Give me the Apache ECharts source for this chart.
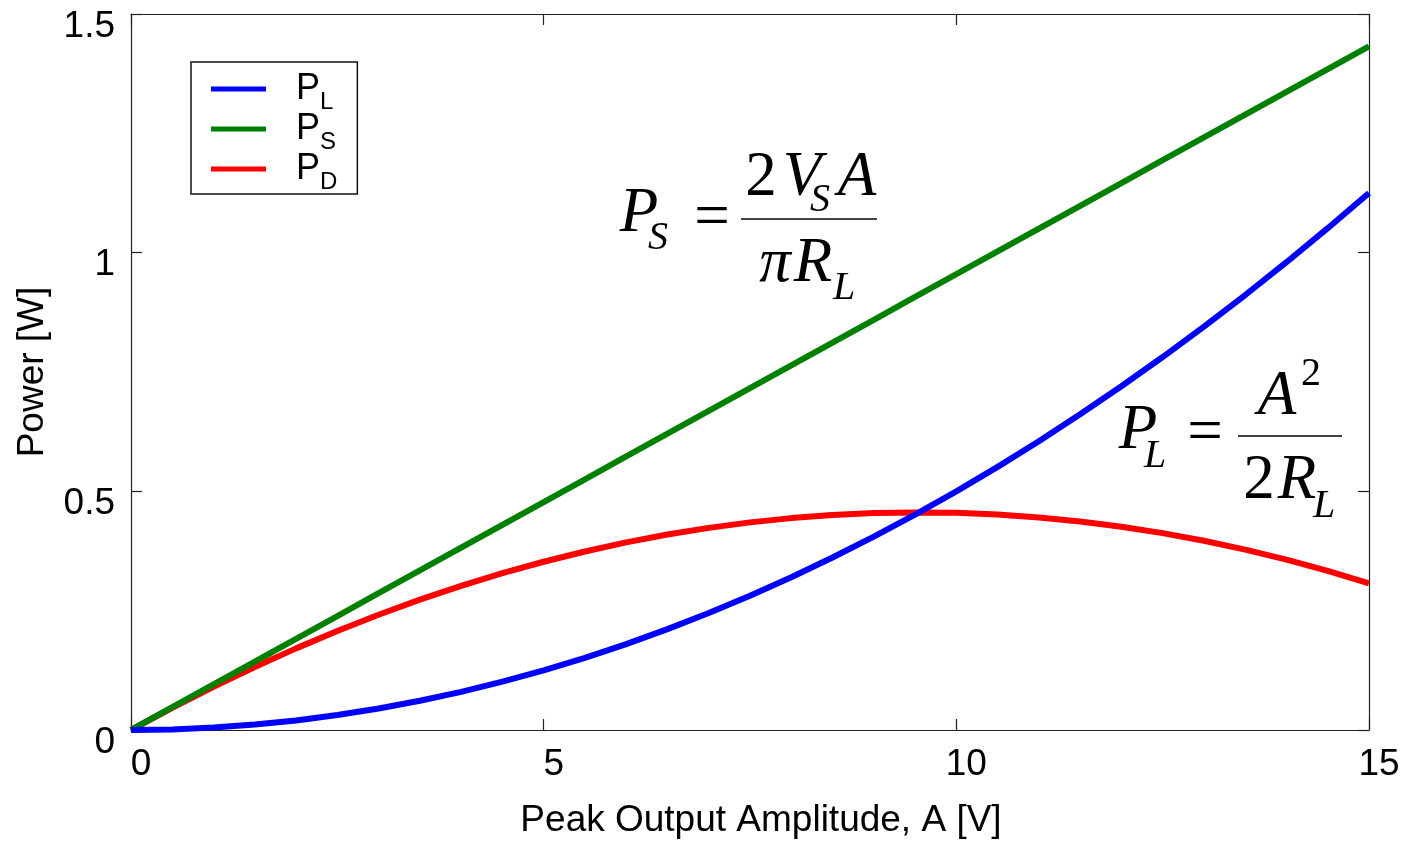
<!DOCTYPE html>
<html><head><meta charset="utf-8">
<script src="https://cdn.jsdelivr.net/npm/echarts@6/dist/echarts.min.js"></script>
<style>html,body{margin:0;padding:0;background:#fff}#c{width:1406px;height:841px}</style>
</head><body><div id="c"></div>
<script>
// Peak output amplitude A [V]
const amplitude = [0,0.5,1,1.5,2,2.5,3,3.5,4,4.5,5,5.5,6,6.5,7,7.5,8,8.5,9,9.5,10,10.5,11,11.5,12,12.5,13,13.5,14,14.5,15];
// Load power P_L [W]
const pLoad = [0,0.0013,0.005,0.0113,0.02,0.0313,0.045,0.0613,0.08,0.1013,0.125,0.1513,0.18,0.2113,0.245,0.2813,0.32,0.3613,0.405,0.4513,0.5,0.5513,0.605,0.6613,0.72,0.7813,0.845,0.9113,0.98,1.0513,1.125];
// Supply power P_S [W]
const pSupply = [0,0.0477,0.0955,0.1432,0.191,0.2387,0.2865,0.3342,0.382,0.4297,0.4775,0.5252,0.573,0.6207,0.6685,0.7162,0.7639,0.8117,0.8594,0.9072,0.9549,1.0027,1.0504,1.0982,1.1459,1.1937,1.2414,1.2892,1.3369,1.3847,1.4324];
// Dissipated power P_D [W]
const pDiss = [0,0.0465,0.0905,0.132,0.171,0.2075,0.2415,0.273,0.302,0.3285,0.3525,0.374,0.393,0.4095,0.4235,0.435,0.4439,0.4505,0.4544,0.4559,0.4549,0.4514,0.4454,0.4369,0.4259,0.4124,0.3964,0.378,0.3569,0.3334,0.3074];
const seriesNames = ['P_L','P_S','P_D'];
const subs = {P_L:'L', P_S:'S', P_D:'D'};
const xTicks = [0,5,10,15];
const yTicks = [0,0.5,1,1.5];

const pair = v => amplitude.map((a,i)=>[a,v[i]]);
const chart = echarts.init(document.getElementById('c'));
const sans = 'Liberation Sans, Arial, sans-serif';
const serif = 'Liberation Serif, Times New Roman, serif';
function axisBase(){
  return {
    type:'value',
    axisLine:{show:true,onZero:false,lineStyle:{color:'#222',width:1.2}},
    axisTick:{show:true,inside:true,length:11,lineStyle:{color:'#222',width:1.2}},
    splitLine:{show:false}
  };
}
function T(text, x, y, size, italic){
  return {type:'text', x:x, y:y, silent:true, z:100, style:{text:text, fill:'#000',
    font:(italic?'italic ':'')+size+'px '+serif, align:'center', verticalAlign:'middle'}};
}
function bar(x1,x2,y){return {type:'line',silent:true,z:100,shape:{x1:x1,y1:y,x2:x2,y2:y},style:{stroke:'#444',lineWidth:2}};}
const F=63, S=40;
chart.setOption({
  animation:false,
  backgroundColor:'#fff',
  grid:{left:131,top:14,right:37,bottom:111,containLabel:false,outerBoundsMode:'none'},
  xAxis:[
    Object.assign(axisBase(),{min:0,max:15,interval:5,position:'bottom',
      name:'Peak Output Amplitude, A [V]',nameLocation:'middle',nameGap:72,
      nameTextStyle:{fontFamily:sans,fontSize:37,color:'#000',padding:[0,0,0,22]},
      axisLabel:{fontFamily:sans,fontSize:37,color:'#000',margin:16,padding:[0,0,0,20],
        formatter:v=>xTicks.includes(v)?String(v):''}}),
    Object.assign(axisBase(),{min:0,max:15,interval:5,position:'top',axisLabel:{show:false}})
  ],
  yAxis:[
    Object.assign(axisBase(),{min:0,max:1.5,interval:0.5,position:'left',
      name:'Power [W]',nameLocation:'middle',nameGap:80,
      nameTextStyle:{fontFamily:sans,fontSize:37,color:'#000'},
      axisLabel:{fontFamily:sans,fontSize:37,color:'#000',margin:16,verticalAlign:'top',lineHeight:25,
        formatter:v=>yTicks.includes(v)?String(v):''}}),
    Object.assign(axisBase(),{min:0,max:1.5,interval:0.5,position:'right',axisLabel:{show:false}})
  ],
  legend:{
    data:seriesNames, orient:'vertical', left:191, top:62,
    backgroundColor:'#fff', borderColor:'#111', borderWidth:1.5, borderRadius:0,
    padding:[9,20,0,20], itemGap:-3, itemWidth:55, itemHeight:5, icon:'rect',
    formatter:n=>'{p|P}{s|'+subs[n]+'}',
    textStyle:{padding:[0,0,0,25],rich:{
      p:{fontFamily:sans,fontSize:36,color:'#000',lineHeight:32},
      s:{fontFamily:sans,fontSize:24,color:'#000',lineHeight:24,verticalAlign:'bottom',padding:[0,0,-9,0]}
    }}
  },
  series:[
    {name:'P_L',type:'line',data:pair(pLoad),showSymbol:false,z:5,lineStyle:{color:'#0000ff',width:6},itemStyle:{color:'#0000ff'}},
    {name:'P_S',type:'line',data:pair(pSupply),showSymbol:false,z:4,lineStyle:{color:'#008000',width:6},itemStyle:{color:'#008000'}},
    {name:'P_D',type:'line',data:pair(pDiss),showSymbol:false,z:3,lineStyle:{color:'#ff0000',width:6},itemStyle:{color:'#ff0000'}}
  ],
  graphic:[
    // P_S = 2 V_S A / (pi R_L)
    T('P',639,214,F,true), T('S',658,238,S,true),
    T('=',712,219,F,false),
    T('2',761,178,F,false), T('V',802,178,F,true), T('S',820,200,S,true), T('A',857,178,F,true),
    bar(741,877,219),
    T('\u03c0',775,264,F,true), T('R',813,264,F,true), T('L',844,288,S,true),
    // P_L = A^2 / (2 R_L)
    T('P',1138,431,F,true), T('L',1155,456,S,true),
    T('=',1205,434,F,false),
    T('A',1277,397,F,true), T('2',1311,374,S,false),
    bar(1238,1342,436),
    T('2',1259,481,F,false), T('R',1297,481,F,true), T('L',1324,506,S,true)
  ]
});
</script></body></html>
